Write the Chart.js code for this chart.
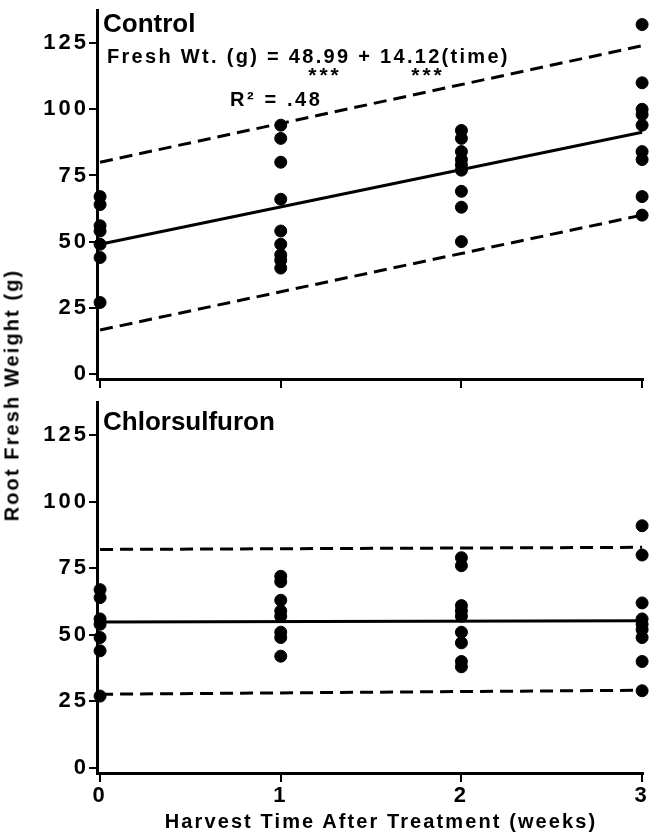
<!DOCTYPE html>
<html>
<head>
<meta charset="utf-8">
<script src="https://cdn.jsdelivr.net/npm/chart.js@4.4.1/dist/chart.umd.min.js"></script>
<style>
  html, body { margin: 0; padding: 0; background: #fff; }
  #wrap { position: relative; width: 650px; height: 836px; font-family: 'Liberation Sans', Arial, sans-serif; }
  canvas { position: absolute; left: 0; }
  #chartTop { top: 0; }
  #chartBottom { top: 395px; }
  .axisTitle { position: absolute; font-weight: bold; font-size: 20px; letter-spacing: 2.1px; white-space: nowrap; color: #000; }
  #yTitle { left: 12px; top: 395px; transform: translate(-50%, -50%) rotate(-90deg); }
  #xTitle { left: 381px; top: 821px; transform: translate(-50%, -50%); }
</style>
</head>
<body>
<div id="wrap">
  <canvas id="chartTop" width="650" height="395"></canvas>
  <canvas id="chartBottom" width="650" height="441"></canvas>
  <div id="yTitle" class="axisTitle">Root Fresh Weight (g)</div>
  <div id="xTitle" class="axisTitle">Harvest Time After Treatment (weeks)</div>
</div>
<script>
// Harvest times and axis ticks
const weeks = [0, 1, 2, 3];
const yTickValues = [0, 25, 50, 75, 100, 125];

// Control plants, root fresh weight (g) per harvest
const controlWeek0 = [67, 64, 56, 54, 49, 44, 27];
const controlWeek1 = [94, 89, 80, 66, 54, 49, 45, 43, 40];
const controlWeek2 = [92, 89, 84, 81, 79, 77, 69, 63, 50];
const controlWeek3 = [132, 110, 100, 98, 94, 84, 81, 67, 60];

// Chlorsulfuron plants
const chlorWeek0 = [67, 64, 56, 54, 49, 44, 27];
const chlorWeek1 = [72, 70, 63, 59, 57, 51, 49, 42];
const chlorWeek2 = [79, 76, 61, 59, 57, 51, 47, 40, 38];
const chlorWeek3 = [91, 80, 62, 56, 54, 52, 49, 40, 29];

// Fitted line and limits, value at week 0 and week 3
const lineEnds = [0, 3];
const controlFit = [48.99, 91.35];
const controlUpper = [80, 124];
const controlLower = [16.6, 60];
const chlorFit = [54.8, 55.3];
const chlorUpper = [82.1, 82.9];
const chlorLower = [27.7, 29.2];

const FONT = "'Liberation Sans', Arial, sans-serif";

function toPoints(groups) {
    return weeks.map((w, i) => groups[i].map(v => ({ x: w, y: v }))).flat();
}

function toLine(vals) {
    return lineEnds.map((x, i) => ({ x: x, y: vals[i] }));
}

// wider letter spacing for the tick numbers, like the typeset original
const spacingPlugin = {
    id: 'tickSpacing',
    beforeDraw(chart) {
        if ('letterSpacing' in chart.ctx) chart.ctx.letterSpacing = '3px';
    },
    afterDraw(chart) {
        if ('letterSpacing' in chart.ctx) chart.ctx.letterSpacing = '0px';
    }
};

// draws the panel labels / equation text
const labelPlugin = {
    id: 'panelLabels',
    afterDraw(chart, args, opts) {
        const ctx = chart.ctx;
        ctx.save();
        ctx.fillStyle = '#000';
        ctx.textBaseline = 'middle';
        (opts.items || []).forEach(it => {
            ctx.font = it.font;
            ctx.textAlign = it.align || 'left';
            if ('letterSpacing' in ctx) ctx.letterSpacing = (it.spacing || 0) + 'px';
            ctx.fillText(it.text, it.x, it.y);
        });
        ctx.restore();
    }
};

function makePanel(id, groups, fit, upper, lower, cfg) {
    const dashed = { borderColor: '#000', borderWidth: 3, borderDash: [13, 7], pointRadius: 0, fill: false, showLine: true, clip: false };
    new Chart(document.getElementById(id), {
        type: 'scatter',
        data: {
            datasets: [
                { data: toPoints(groups), backgroundColor: '#000', borderColor: '#000', pointRadius: 6, pointHoverRadius: 6, clip: false },
                { type: 'line', data: toLine(fit), borderColor: '#000', borderWidth: 3, pointRadius: 0, fill: false, clip: false },
                Object.assign({ type: 'line', data: toLine(upper) }, dashed),
                Object.assign({ type: 'line', data: toLine(lower) }, dashed)
            ]
        },
        options: {
            responsive: false,
            animation: false,
            events: [],
            layout: { padding: { top: cfg.padTop, right: 3, left: 0, bottom: 0 } },
            plugins: {
                legend: { display: false },
                tooltip: { enabled: false },
                panelLabels: { items: cfg.labels }
            },
            scales: {
                x: {
                    type: 'linear',
                    min: -0.017,
                    max: 3.005,
                    afterBuildTicks: ax => { ax.ticks = weeks.map(v => ({ value: v })); },
                    afterFit: ax => { ax.height = cfg.xAxisHeight; ax.paddingLeft = 0; ax.paddingRight = 0; },
                    ticks: { display: cfg.showX, color: '#000', padding: 1, font: { family: FONT, size: 22, weight: 'bold' } },
                    grid: { drawOnChartArea: false, drawTicks: true, tickLength: 9, color: '#000', lineWidth: 2 },
                    border: { display: true, color: '#000', width: 3 }
                },
                y: {
                    min: -1.9,
                    max: 137.5,
                    afterBuildTicks: ax => { ax.ticks = yTickValues.map(v => ({ value: v })); },
                    afterFit: ax => { ax.width = 97; ax.paddingTop = 0; ax.paddingBottom = 0; },
                    ticks: { color: '#000', padding: 0, font: { family: FONT, size: 22, weight: 'bold' } },
                    grid: { drawOnChartArea: false, drawTicks: true, tickLength: 8, color: '#000', lineWidth: 2 },
                    border: { display: true, color: '#000', width: 3 }
                }
            }
        },
        plugins: [spacingPlugin, labelPlugin]
    });
}

makePanel('chartTop', [controlWeek0, controlWeek1, controlWeek2, controlWeek3],
    controlFit, controlUpper, controlLower, {
        padTop: 10, xAxisHeight: 16, showX: false,
        labels: [
            { text: 'Control', x: 103, y: 25, font: 'bold 26px ' + FONT },
            { text: 'Fresh Wt. (g) = 48.99 + 14.12(time)', x: 107, y: 57, font: 'bold 20px ' + FONT, spacing: 2.3 },
            { text: '***', x: 325, y: 76, align: 'center', font: 'bold 21px ' + FONT, spacing: 3 },
            { text: '***', x: 428, y: 76, align: 'center', font: 'bold 21px ' + FONT, spacing: 3 },
            { text: 'R\u00b2 = .48', x: 230, y: 100, font: 'bold 20px ' + FONT, spacing: 2.6 }
        ]
    });

makePanel('chartBottom', [chlorWeek0, chlorWeek1, chlorWeek2, chlorWeek3],
    chlorFit, chlorUpper, chlorLower, {
        padTop: 7, xAxisHeight: 63, showX: true,
        labels: [
            { text: 'Chlorsulfuron', x: 103, y: 28, font: 'bold 26px ' + FONT }
        ]
    });
</script>
</body>
</html>
